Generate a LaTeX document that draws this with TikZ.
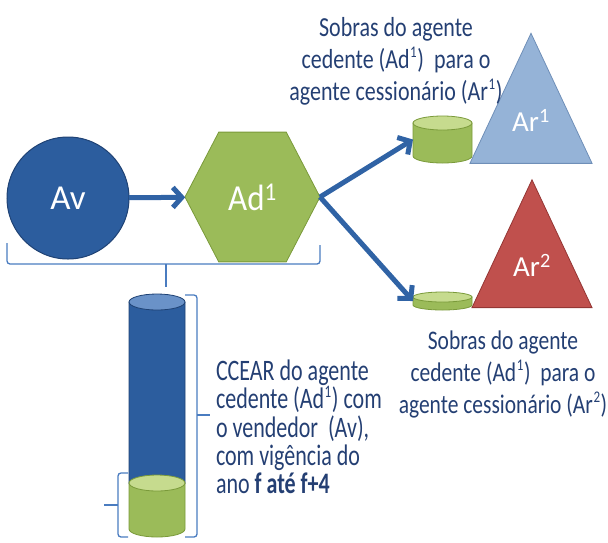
\documentclass[tikz,border=0pt]{standalone}
\usepackage{fontspec}
\setmainfont{Carlito}
\usetikzlibrary{shapes.geometric,arrows.meta}
\definecolor{avblue}{HTML}{2C5D9E}
\definecolor{avedge}{HTML}{1F4274}
\definecolor{adgreen}{HTML}{9BBB59}
\definecolor{adgreentop}{HTML}{C6DB8E}
\definecolor{adedge}{HTML}{7A9A3A}
\definecolor{arblue}{HTML}{95B3D7}
\definecolor{arblueedge}{HTML}{6F8FB8}
\definecolor{arred}{HTML}{C0504D}
\definecolor{arrededge}{HTML}{943634}
\definecolor{setablue}{HTML}{3063A5}
\definecolor{txtblue}{HTML}{243F73}
\definecolor{braceblue}{HTML}{4A7CC0}
\definecolor{cyltop}{HTML}{6A92C8}
\newcommand{\linhasjuntas}{\setlength{\lineskiplimit}{-30pt}}
\newcommand{\sob}[1]{\kern0.6pt\raisebox{0.38em}{\fontsize{13}{13}\selectfont #1}\kern0.6pt}
% #1 node, #2 body, #3 top, #4 edge, #5 x radius, #6 y radius
\newcommand{\cilindro}[6]{%
    \draw[#4, fill=#2, line width=0.8pt] (#1.north west) -- (#1.south west)
        arc[start angle=180, end angle=360, x radius=#5, y radius=#6] -- (#1.north east) -- cycle;
    \draw[#4, fill=#3, line width=0.8pt] (#1.north) ellipse[x radius=#5, y radius=#6];}
\begin{document}
\begin{tikzpicture}[x=1pt, y=-1pt,
    every node/.style={inner sep=0pt, outer sep=0pt},
    seta/.style={draw=setablue, line width=5pt, -{Straight Barb[length=9pt,width=20pt]}},
    corpo/.style={rectangle},
    triangulo/.style={regular polygon, regular polygon sides=3, yscale=1.23, line width=0.8pt},
    rotulo/.style={text=white, font=\fontsize{29}{29}\selectfont},
    nota/.style={text=txtblue, font=\fontsize{22}{25.6}\selectfont, align=center, yscale=1.25},
    colchete/.style={draw=braceblue, line width=1.3pt, rounded corners=3pt}]
    \useasboundingbox (0,0) rectangle (608,542);
    \node[circle, minimum size=122pt, fill=avblue, draw=avedge, line width=1pt,
        text=white, font=\fontsize{35}{35}\selectfont] (av) at (68,198) {Av};
    \node[regular polygon, regular polygon sides=6, minimum size=135pt, yscale=1.11,
        fill=adgreen, draw=adedge, line width=0.8pt,
        text=white, font=\fontsize{33}{33}\selectfont] (ad) at (252.5,197) {Ad\textsuperscript{1}};
    \node[triangulo, minimum size=141pt, fill=arblue, draw=arblueedge] (ar1) at (531,120) {};
    \node[rotulo] (ar1txt) at (ar1.center) {Ar\textsuperscript{1}};
    \node[triangulo, minimum size=138.6pt, fill=arred, draw=arrededge] (ar2) at (532,265) {};
    \node[rotulo] (ar2txt) at (ar2.center) {Ar\textsuperscript{2}};
    \node[corpo, minimum width=59pt, minimum height=33pt] (sobra1) at (442.5,139.5) {};
    \cilindro{sobra1}{adgreen}{adgreentop}{adedge}{29.5pt}{7pt}
    \node[corpo, minimum width=59pt, minimum height=8pt] (sobra2) at (442.5,301) {};
    \cilindro{sobra2}{adgreen}{adgreentop}{adedge}{29.5pt}{5pt}
    \node[corpo, minimum width=56pt, minimum height=181pt] (ccear) at (157,392.5) {};
    \cilindro{ccear}{avblue}{cyltop}{avedge}{28pt}{8pt}
    \node[corpo, minimum width=56pt, minimum height=46pt] (ccearf) at (157,506) {};
    \cilindro{ccearf}{adgreen}{adgreentop}{adedge}{28pt}{8pt}
    \draw[seta] (av) -- (ad);
    \draw[seta] (ad.east) -- (sobra1.west);
    \draw[seta] (ad.east) -- (sobra2.west);
    \draw[colchete] (7,243) |- (320,264) -- (320,245);
    \draw[colchete] (166,264) -- (166,287);
    \draw[colchete] (185,295) -| (197,537) -- (185,537);
    \draw[colchete] (197,415) -- (210,415);
    \draw[colchete] (128,473) -| (118,537) -- (128,537);
    \draw[colchete] (118,505) -- (104,505);
    \node[nota] (notasup) at (396,61) {Sobras do agente\\cedente (Ad\sob{1})~ para o\\agente cessionário (Ar\sob{1})};
    \node[nota, font=\fontsize{21.5}{25.6}\selectfont] (notainf) at (503,374) {Sobras do agente\\cedente (Ad\sob{1})~ para o\\agente cessionário (Ar\sob{2})};
    \node[nota, align=left, anchor=west, yscale=1.08,
        font={\fontsize{22}{21}\selectfont\linhasjuntas}] (notaccear) at (216,427)
        {CCEAR do agente\\cedente (Ad\sob{1}) com\\o vendedor~ (Av),\\com vigência do\\ano \textbf{f até f+4}};
\end{tikzpicture}
\end{document}
